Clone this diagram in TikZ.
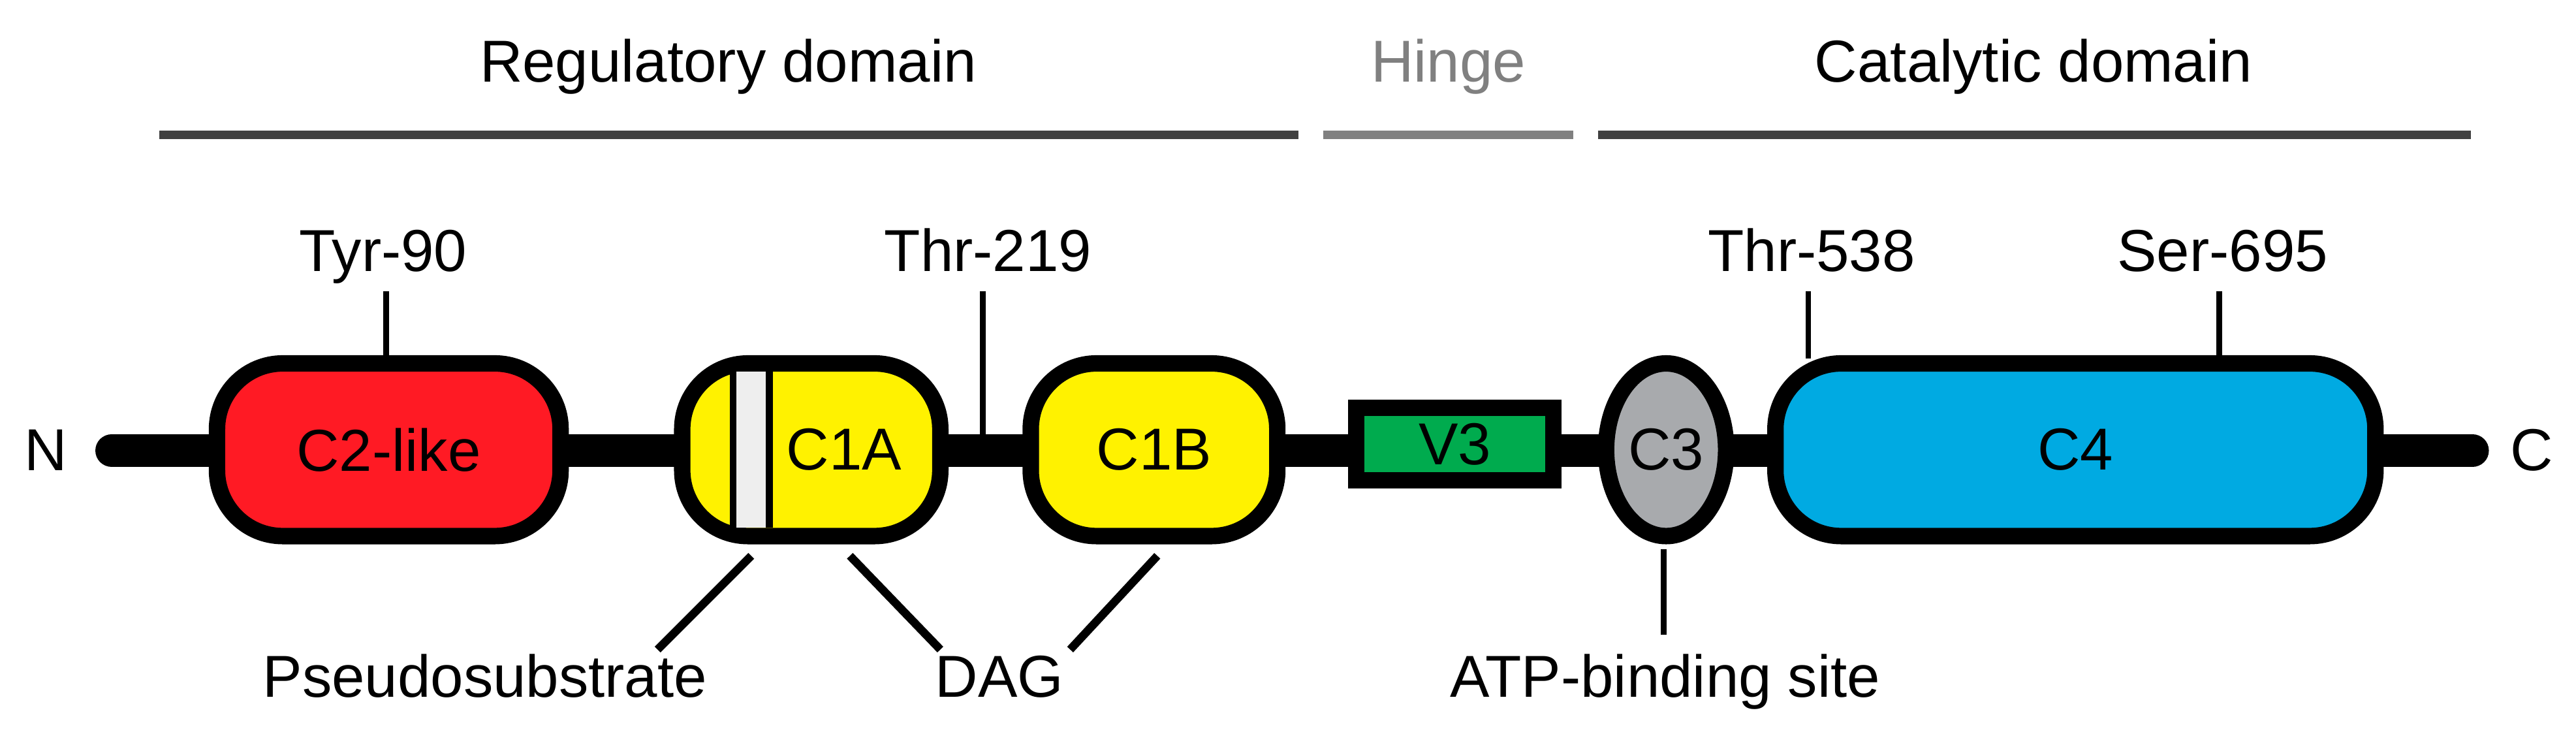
\documentclass[tikz,border=0pt]{standalone}
\usepackage{fontspec}
\setmainfont{Liberation Sans}
\usetikzlibrary{shapes.geometric}
\definecolor{dred}{HTML}{FF1A24}
\definecolor{dyel}{HTML}{FFF200}
\definecolor{dgrn}{HTML}{00AB4E}
\definecolor{dblu}{HTML}{00AAE2}
\definecolor{dgry}{HTML}{A8AAAD}
\definecolor{lgry}{HTML}{EEEEEE}
\begin{document}
\begin{tikzpicture}[x=1pt,y=-1pt,
  lbl/.style={font=\fontsize{36}{40}\selectfont, inner sep=0pt, anchor=base},
  dom/.style={draw, line width=10pt, rounded corners=40pt, minimum height=105pt, font=\fontsize{36}{40}\selectfont},
  tick/.style={line width=3.5pt},
  bar/.style={line width=5pt}]
\useasboundingbox (0,0) rectangle (1567,446);

% titles and domain bars
\node[lbl] (reg) at (443,50) {Regulatory domain};
\node[lbl, text=gray] (hin) at (881,50) {Hinge};
\node[lbl] (cat) at (1237,50) {Catalytic domain};
\coordinate (r1) at (97,82);  \coordinate (r2) at (790,82);
\coordinate (h1) at (805,82); \coordinate (h2) at (957,82);
\coordinate (k1) at (972,82); \coordinate (k2) at (1503,82);
\draw[bar, black!75] (r1) -- (r2);
\draw[bar, gray] (h1) -- (h2);
\draw[bar, black!75] (k1) -- (k2);

% backbone
\node[lbl] (N) at (28,286) {N};
\node[lbl] (C) at (1540,286) {C};
\coordinate (b1) at (68,274);
\coordinate (b2) at (1504,274);
\draw[line width=20pt, line cap=round] (b1) -- (b2);

% domains
\node[dom, fill=dred, minimum width=209pt] (c2) at (236.5,273.5) {C2-like};
\node[dom, fill=dyel, minimum width=157pt] (c1a) at (493.5,273.5) {\hspace{40pt}C1A};
\node[dom, fill=dyel, minimum width=150pt] (c1b) at (702,273.5) {C1B};
\node[draw, line width=10pt, fill=dgrn, minimum width=120pt, minimum height=44pt,
      font=\fontsize{36}{40}\selectfont] (v3) at (885,270) {V3};
\node[dom, ellipse, fill=dgry, minimum width=73pt, minimum height=105pt, inner sep=0pt] (c3) at (1013.5,273.5) {C3};
\node[dom, fill=dblu, minimum width=365pt] (c4) at (1262.5,273.5) {C4};

% pseudosubstrate stripe
\fill[lgry] (446,226) rectangle (468,321);
\draw[line width=4pt] (446,226) -- (446,321) (468,226) -- (468,321);

% phosphorylation sites
\node[lbl] (tyr) at (233,165) {Tyr-90};
\node[lbl] (thr2) at (601,165) {Thr-219};
\node[lbl] (thr5) at (1102,165) {Thr-538};
\node[lbl] (ser) at (1352,165) {Ser-695};
\coordinate (t1) at (235,177); \coordinate (t1b) at (235,218);
\coordinate (t2) at (598,177); \coordinate (t2b) at (598,266);
\coordinate (t3) at (1100,177); \coordinate (t3b) at (1100,218);
\coordinate (t4) at (1350,177); \coordinate (t4b) at (1350,218);
\draw[tick] (t1) -- (t1b);
\draw[tick] (t2) -- (t2b);
\draw[tick] (t3) -- (t3b);
\draw[tick] (t4) -- (t4b);

% bottom labels
\node[lbl] (pse) at (295,424) {Pseudosubstrate};
\node[lbl] (dag) at (608,424) {DAG};
\node[lbl] (atp) at (1013,424) {ATP-binding site};
\coordinate (p1) at (457,338); \coordinate (p2) at (400,395);
\coordinate (d1) at (517,338); \coordinate (d2) at (572,395);
\coordinate (d3) at (704,338); \coordinate (d4) at (651,395);
\coordinate (a1) at (1012,334); \coordinate (a2) at (1012,386);
\draw[bar] (p1) -- (p2);
\draw[bar] (d1) -- (d2);
\draw[bar] (d3) -- (d4);
\draw[tick] (a1) -- (a2);
\end{tikzpicture}
\end{document}
